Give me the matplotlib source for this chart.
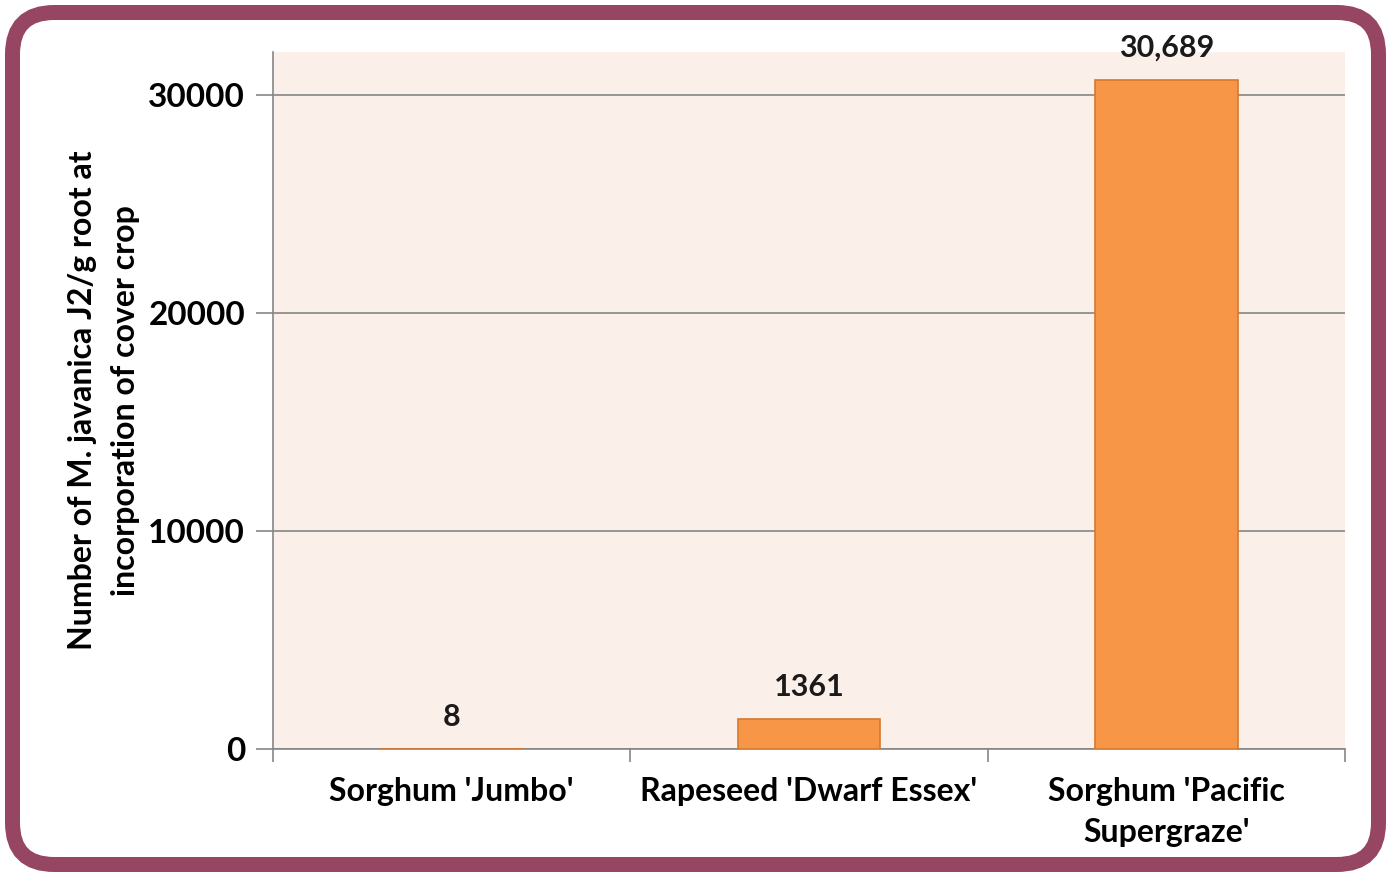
import matplotlib.pyplot as plt
from matplotlib.patches import FancyBboxPatch

categories = ["Sorghum 'Jumbo'", "Rapeseed 'Dwarf Essex'", "Sorghum 'Pacific\nSupergraze'"]
values = [8, 1361, 30689]
value_labels = ["8", "1361", "30,689"]
yticks = [0, 10000, 20000, 30000]

plt.rcParams['font.family'] = ['Lato', 'DejaVu Sans']
plt.rcParams['font.weight'] = 'bold'

fig = plt.figure(figsize=(13.91, 8.77), dpi=100)
W, H = 1391, 877
ax = fig.add_axes([273 / W, 1 - 749 / H, (1345 - 273) / W, (749 - 52) / H])
ax.set_facecolor('#FBEFE9')

x = range(len(categories))
ax.bar(x, values, width=0.4, color='#F79646', edgecolor='#D7782E', linewidth=1.2, zorder=3)
for i, v in enumerate(values):
    ax.annotate(value_labels[i], (i, v), xytext=(0, 13), textcoords='offset points',
                ha='center', va='bottom', fontsize=22, fontweight='bold', color='#1a1a1a',
                annotation_clip=False)

ax.set_xlim(-0.5, len(categories) - 0.5)
ax.set_ylim(0, 31980)
ax.set_yticks(yticks)
ax.set_yticklabels([str(t) for t in yticks])
ax.yaxis.grid(True, color='#868686', linewidth=1.2, zorder=1)
ax.set_axisbelow(True)

ax.set_xticks([i + 0.5 for i in range(-1, len(categories))], minor=False)
ax.set_xticklabels([])
ax.set_xticks(list(x), minor=True)
ax.set_xticklabels(categories, minor=True, fontsize=23, fontweight='bold', linespacing=1.5)
ax.tick_params(axis='x', which='minor', length=0, pad=20)
ax.tick_params(axis='x', which='major', length=9, color='#868686', width=1.2, direction='out')
ax.tick_params(axis='y', length=12, color='#868686', width=1.2, direction='out', pad=8,
               labelsize=24)
for t in ax.get_yticklabels():
    t.set_fontweight('bold')

for s in ['top', 'right']:
    ax.spines[s].set_visible(False)
for s in ['left', 'bottom']:
    ax.spines[s].set_color('#868686')
    ax.spines[s].set_linewidth(1.2)

ax.set_ylabel("Number of M. javanica J2/g root at\nincorporation of cover crop",
              fontsize=23, fontweight='bold', labelpad=6, linespacing=1.6)

# rounded frame around the picture
frame = FancyBboxPatch((12.5 / W, 12.5 / H), (W - 25) / W, (H - 25) / H,
                       boxstyle='round,pad=0,rounding_size=0.03',
                       transform=fig.transFigure, facecolor='none',
                       edgecolor='#964562', linewidth=10.8, mutation_aspect=W / H)
fig.patches.append(frame)

fig.savefig('out.png', dpi=100)
